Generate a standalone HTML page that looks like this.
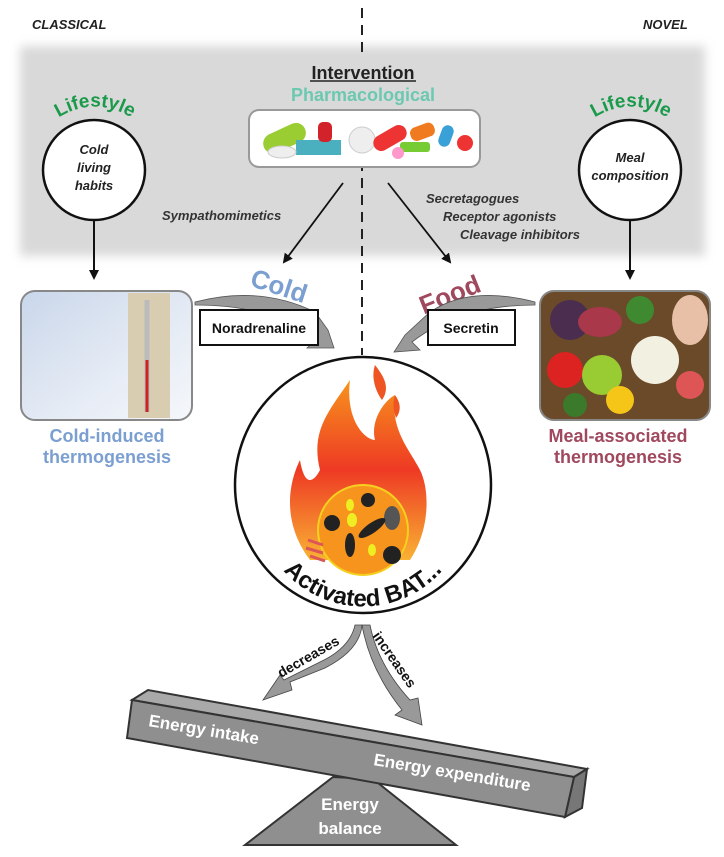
<!DOCTYPE html>
<html><head><meta charset="utf-8"><style>
html,body{margin:0;padding:0;background:#fff}
svg{display:block}
text{font-family:"Liberation Sans",sans-serif}
</style></head><body>
<svg width="724" height="857" viewBox="0 0 724 857" xmlns="http://www.w3.org/2000/svg">
<defs>
<filter id="blur"><feGaussianBlur stdDeviation="5"/></filter>
<linearGradient id="snow" x1="0" y1="0" x2="1" y2="1"><stop offset="0" stop-color="#c9d6ea"/><stop offset="0.6" stop-color="#e6ecf5"/><stop offset="1" stop-color="#f5f7fb"/></linearGradient>
<linearGradient id="flame" x1="0" y1="0" x2="0" y2="1"><stop offset="0" stop-color="#f7941d"/><stop offset="0.5" stop-color="#ee3a24"/><stop offset="1" stop-color="#f9b233"/></linearGradient>
<path id="arc" d="M 258 515 A 106 106 0 0 0 468 515"/>
<path id="la" d="M 48 125 Q 95 88 142 125" fill="none"/>
<path id="ra" d="M 584 125 Q 631 88 678 125" fill="none"/>
<marker id="ah" markerWidth="10" markerHeight="10" refX="8" refY="5" orient="auto" markerUnits="userSpaceOnUse"><path d="M0,0 L10,5 L0,10 Z" fill="#111"/></marker>
</defs>
<rect x="20" y="46" width="685" height="210" fill="#d9d9d9" filter="url(#blur)"/>
<line x1="362" y1="8" x2="362" y2="355" stroke="#222" stroke-width="2" stroke-dasharray="10,7"/>
<rect x="300" y="58" width="126" height="50" fill="#d9d9d9"/>
<text x="32" y="29" font-size="13" font-style="italic" font-weight="bold" fill="#222">CLASSICAL</text>
<text x="643" y="29" font-size="13" font-style="italic" font-weight="bold" fill="#222">NOVEL</text>
<text x="363" y="79" font-size="18" font-weight="bold" text-anchor="middle" fill="#222">Intervention</text>
<line x1="310" y1="81" x2="416" y2="81" stroke="#222" stroke-width="1.5"/>
<text x="363" y="101" font-size="18" font-weight="bold" text-anchor="middle" fill="#6cc8b0">Pharmacological</text>
<rect x="249" y="110" width="231" height="57" rx="10" fill="#fff" stroke="#999" stroke-width="2"/>
<g>
<rect x="262" y="128" width="45" height="20" rx="10" fill="#9acd32" transform="rotate(-25 285 138)"/>
<rect x="296" y="140" width="45" height="15" fill="#4ab0c0"/>
<rect x="318" y="122" width="14" height="20" rx="5" fill="#d2232a"/>
<circle cx="362" cy="140" r="13" fill="#eee" stroke="#ccc"/>
<rect x="372" y="130" width="36" height="16" rx="8" fill="#e33" transform="rotate(-30 390 138)"/>
<rect x="400" y="142" width="30" height="10" rx="3" fill="#7c3"/>
<rect x="410" y="125" width="25" height="14" rx="6" fill="#f07a20" transform="rotate(-20 422 132)"/>
<rect x="440" y="125" width="12" height="22" rx="6" fill="#3aa0d8" transform="rotate(20 446 136)"/>
<circle cx="465" cy="143" r="8" fill="#e33"/>
<ellipse cx="282" cy="152" rx="14" ry="6" fill="#eee" stroke="#ccc"/>
<circle cx="398" cy="153" r="6" fill="#f9c"/>
</g>
<text font-size="19" font-weight="bold" fill="#1a9a4a"><textPath href="#la" startOffset="50%" text-anchor="middle">Lifestyle</textPath></text>
<ellipse cx="94" cy="170" rx="51" ry="50" fill="#fff" stroke="#111" stroke-width="2.5"/>
<text x="94" y="154" font-size="13" font-style="italic" font-weight="bold" text-anchor="middle" fill="#222">Cold</text>
<text x="94" y="172" font-size="13" font-style="italic" font-weight="bold" text-anchor="middle" fill="#222">living</text>
<text x="94" y="190" font-size="13" font-style="italic" font-weight="bold" text-anchor="middle" fill="#222">habits</text>
<line x1="94" y1="220" x2="94" y2="278" stroke="#111" stroke-width="2" marker-end="url(#ah)"/>
<text font-size="19" font-weight="bold" fill="#1a9a4a"><textPath href="#ra" startOffset="50%" text-anchor="middle">Lifestyle</textPath></text>
<ellipse cx="630" cy="170" rx="51" ry="50" fill="#fff" stroke="#111" stroke-width="2.5"/>
<text x="630" y="162" font-size="13" font-style="italic" font-weight="bold" text-anchor="middle" fill="#222">Meal</text>
<text x="630" y="180" font-size="13" font-style="italic" font-weight="bold" text-anchor="middle" fill="#222">composition</text>
<line x1="630" y1="220" x2="630" y2="278" stroke="#111" stroke-width="2" marker-end="url(#ah)"/>
<line x1="343" y1="183" x2="284" y2="262" stroke="#111" stroke-width="1.8" marker-end="url(#ah)"/>
<line x1="388" y1="183" x2="450" y2="262" stroke="#111" stroke-width="1.8" marker-end="url(#ah)"/>
<text x="162" y="220" font-size="13" font-style="italic" font-weight="bold" fill="#333">Sympathomimetics</text>
<text x="426" y="203" font-size="13" font-style="italic" font-weight="bold" fill="#333">Secretagogues</text>
<text x="443" y="221" font-size="13" font-style="italic" font-weight="bold" fill="#333">Receptor agonists</text>
<text x="460" y="239" font-size="13" font-style="italic" font-weight="bold" fill="#333">Cleavage inhibitors</text>
<rect x="21" y="291" width="171" height="129" rx="14" fill="url(#snow)" stroke="#888" stroke-width="2"/>
<rect x="128" y="293" width="42" height="125" fill="#d8cdb0"/>
<line x1="147" y1="300" x2="147" y2="412" stroke="#bbb" stroke-width="5"/>
<line x1="147" y1="360" x2="147" y2="412" stroke="#c22" stroke-width="3"/>
<rect x="540" y="291" width="170" height="129" rx="14" fill="#6b4a2a" stroke="#888" stroke-width="2"/>
<circle cx="570" cy="320" r="20" fill="#4a2d4f"/><ellipse cx="600" cy="322" rx="22" ry="15" fill="#a8384a"/>
<circle cx="640" cy="310" r="14" fill="#3f8a30"/><ellipse cx="690" cy="320" rx="18" ry="25" fill="#e8c0a8"/>
<circle cx="565" cy="370" r="18" fill="#d22"/><circle cx="602" cy="375" r="20" fill="#9c3"/><circle cx="655" cy="360" r="24" fill="#f2f0e0"/>
<circle cx="620" cy="400" r="14" fill="#f5c518"/><circle cx="690" cy="385" r="14" fill="#d55"/><circle cx="575" cy="405" r="12" fill="#3a7a2a"/>
<text x="250" y="292" font-size="26" font-weight="bold" fill="#7a9fd0" transform="rotate(18 270 285)">Cold</text>
<text x="416" y="305" font-size="26" font-weight="bold" fill="#a0485e" transform="rotate(-22 445 290)">Food</text>
<path d="M195 302 Q260 285 315 312 L328 330 L334 348 L307 348 L318 338 Q270 305 195 305 Z" fill="#999" stroke="#555" stroke-width="0.8"/>
<path d="M535 302 Q470 285 430 312 L405 335 L394 352 L420 350 L412 342 Q460 305 535 305 Z" fill="#999" stroke="#555" stroke-width="0.8"/>
<rect x="200" y="310" width="118" height="35" fill="#fff" stroke="#111" stroke-width="2"/>
<text x="259" y="333" font-size="14" font-weight="bold" text-anchor="middle" fill="#111">Noradrenaline</text>
<rect x="428" y="310" width="87" height="35" fill="#fff" stroke="#111" stroke-width="2"/>
<text x="471" y="333" font-size="14" font-weight="bold" text-anchor="middle" fill="#111">Secretin</text>
<text x="107" y="442" font-size="18" font-weight="bold" text-anchor="middle" fill="#7a9fd0">Cold-induced</text>
<text x="107" y="463" font-size="18" font-weight="bold" text-anchor="middle" fill="#7a9fd0">thermogenesis</text>
<text x="618" y="442" font-size="18" font-weight="bold" text-anchor="middle" fill="#a0485e">Meal-associated</text>
<text x="618" y="463" font-size="18" font-weight="bold" text-anchor="middle" fill="#a0485e">thermogenesis</text>
<circle cx="363" cy="485" r="128" fill="#fff" stroke="#111" stroke-width="2.5"/>
<path d="M310 560 C280 520 290 480 300 460 C305 490 315 480 320 470 C310 430 330 410 350 380 C345 420 365 440 375 440 C370 420 385 400 395 395 C390 430 410 450 420 470 C430 490 430 530 410 560 Z" fill="url(#flame)"/>
<path d="M375 365 C370 380 378 395 382 400 C390 388 385 378 375 365 Z" fill="#ee5522"/>
<path d="M395 395 C392 405 394 412 396 418 C402 410 400 402 395 395 Z" fill="#ee5522"/>
<circle cx="363" cy="530" r="45" fill="#f7941d" stroke="#f5d020" stroke-width="2"/>
<circle cx="332" cy="523" r="8" fill="#222"/><circle cx="368" cy="500" r="7" fill="#222"/><circle cx="392" cy="555" r="9" fill="#222"/>
<ellipse cx="392" cy="518" rx="8" ry="12" fill="#555"/>
<ellipse cx="350" cy="505" rx="4" ry="6" fill="#ee2"/><ellipse cx="352" cy="520" rx="5" ry="7" fill="#ee2"/><ellipse cx="372" cy="550" rx="4" ry="6" fill="#ee2"/>
<ellipse cx="350" cy="545" rx="5" ry="12" fill="#222"/><ellipse cx="372" cy="528" rx="16" ry="5" fill="#222" transform="rotate(-35 372 528)"/>
<path d="M308 540 l15 5 M306 548 l17 5 M310 556 l15 5" stroke="#d55" stroke-width="3"/>
<text font-size="24" font-weight="bold" fill="#111"><textPath href="#arc" startOffset="50%" text-anchor="middle">Activated BAT...</textPath></text>
<path d="M355 625 L362 625 Q360 650 325 668 L290 682 L292 690 L263 700 L280 675 L284 680 L320 662 Q350 648 355 625 Z" fill="#999" stroke="#444" stroke-width="0.8"/>
<path d="M362 625 L370 625 Q378 665 410 700 L418 698 L422 725 L395 715 L402 710 Q370 670 362 625 Z" fill="#999" stroke="#444" stroke-width="0.8"/>
<text x="281" y="678" font-size="14" font-weight="bold" fill="#111" transform="rotate(-30 281 678)">decreases</text>
<text x="372" y="636" font-size="14" font-weight="bold" fill="#111" transform="rotate(55 372 636)">increases</text>
<polygon points="245,845 456,845 373,779 333,777" fill="#8f8f8f" stroke="#333" stroke-width="2"/>
<text x="350" y="810" font-size="17" font-weight="bold" text-anchor="middle" fill="#fff">Energy</text>
<text x="350" y="834" font-size="17" font-weight="bold" text-anchor="middle" fill="#fff">balance</text>
<polygon points="132,700 148,690 587,769 574,777" fill="#a9a9a9" stroke="#333" stroke-width="2"/>
<polygon points="574,777 587,769 582,808 565,817" fill="#777" stroke="#333" stroke-width="2"/>
<polygon points="132,700 574,777 565,817 127,738" fill="#8f8f8f" stroke="#333" stroke-width="2"/>
<text x="148" y="726" font-size="17" font-weight="bold" fill="#fff" transform="rotate(9.5 148 726)">Energy intake</text>
<text x="373" y="765" font-size="17" font-weight="bold" fill="#fff" transform="rotate(9.5 373 765)">Energy expenditure</text>
</svg>
</body></html>
